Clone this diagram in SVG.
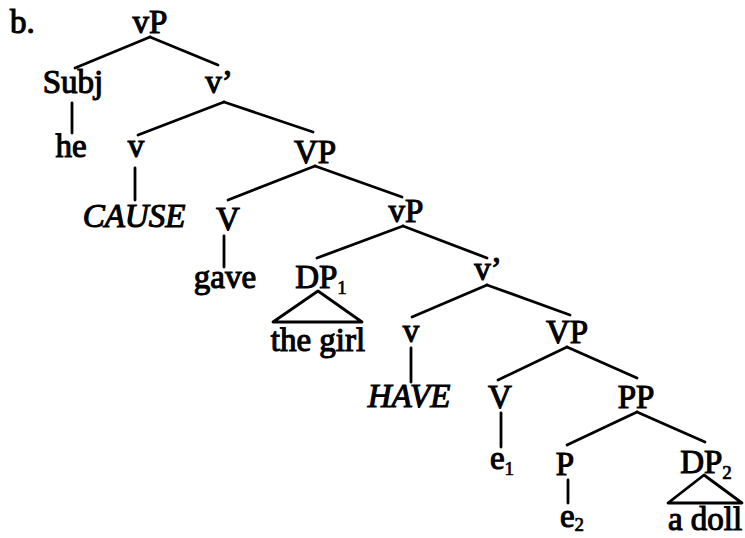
<svg xmlns="http://www.w3.org/2000/svg" width="745" height="538" viewBox="0 0 745 538">
<style>
text{font-family:"Liberation Serif","Times New Roman",serif;font-size:33px;fill:#000;stroke:#000;stroke-width:1.1;text-anchor:middle}
.it{font-style:italic}
.sub{font-size:19px;stroke-width:0.7}
.e line,.e polygon{stroke:#000;stroke-width:2.8;fill:none;stroke-linecap:round;stroke-linejoin:round}
</style>
<rect width="745" height="538" fill="#fff"/>
<g id="connectors" class="e">
<line x1="150" y1="37" x2="75" y2="68"/>
<line x1="150" y1="37" x2="218" y2="65"/>
<line x1="72" y1="103" x2="72" y2="133"/>
<line x1="224" y1="102" x2="138" y2="135"/>
<line x1="224" y1="102" x2="313" y2="132"/>
<line x1="135" y1="168" x2="135" y2="200"/>
<line x1="315" y1="166" x2="228" y2="200"/>
<line x1="315" y1="166" x2="402" y2="197"/>
<line x1="224" y1="236" x2="224" y2="267"/>
<line x1="403" y1="226" x2="317" y2="258"/>
<line x1="403" y1="226" x2="487" y2="258"/>
<polygon points="318,291 273,322 362,322"/>
<line x1="487" y1="285" x2="412" y2="317"/>
<line x1="487" y1="285" x2="570" y2="315"/>
<line x1="411" y1="348" x2="411" y2="382"/>
<line x1="567" y1="347" x2="498" y2="380"/>
<line x1="567" y1="347" x2="637" y2="378"/>
<line x1="501" y1="413" x2="501" y2="447"/>
<line x1="637" y1="412" x2="567" y2="445"/>
<line x1="637" y1="412" x2="705" y2="442"/>
<line x1="568" y1="480" x2="568" y2="503"/>
<polygon points="704,475 668,503 742,503"/>
</g>
<g id="label-b"><text x="10" y="33" style="text-anchor:start">b.</text></g>
<g id="n-vP1"><text x="150" y="33">vP</text></g>
<g id="n-Subj"><text x="73" y="93">Subj</text></g>
<g id="n-vbar1"><text x="219" y="93">v’</text></g>
<g id="n-he"><text x="71" y="157">he</text></g>
<g id="n-v1"><text x="136" y="157">v</text></g>
<g id="n-VP1"><text x="315" y="163">VP</text></g>
<g id="n-CAUSE"><text x="134" y="227" class="it">CAUSE</text></g>
<g id="n-V1"><text x="228" y="230">V</text></g>
<g id="n-vP2"><text x="406" y="222">vP</text></g>
<g id="n-gave"><text x="225" y="288">gave</text></g>
<g id="n-DP1"><text x="321" y="288">DP<tspan class="sub" dy="6">1</tspan></text></g>
<g id="n-thegirl"><text x="318" y="351">the girl</text></g>
<g id="n-vbar2"><text x="488" y="280">v’</text></g>
<g id="n-v2"><text x="411" y="342">v</text></g>
<g id="n-VP2"><text x="567" y="343">VP</text></g>
<g id="n-HAVE"><text x="409" y="407" class="it">HAVE</text></g>
<g id="n-V2"><text x="500" y="408">V</text></g>
<g id="n-PP"><text x="636" y="408">PP</text></g>
<g id="n-e1"><text x="502" y="469">e<tspan class="sub" dy="6">1</tspan></text></g>
<g id="n-P"><text x="565" y="475">P</text></g>
<g id="n-DP2"><text x="706" y="473">DP<tspan class="sub" dy="6">2</tspan></text></g>
<g id="n-e2"><text x="572" y="527">e<tspan class="sub" dy="4">2</tspan></text></g>
<g id="n-adoll"><text x="705" y="530">a doll</text></g>
</svg>
